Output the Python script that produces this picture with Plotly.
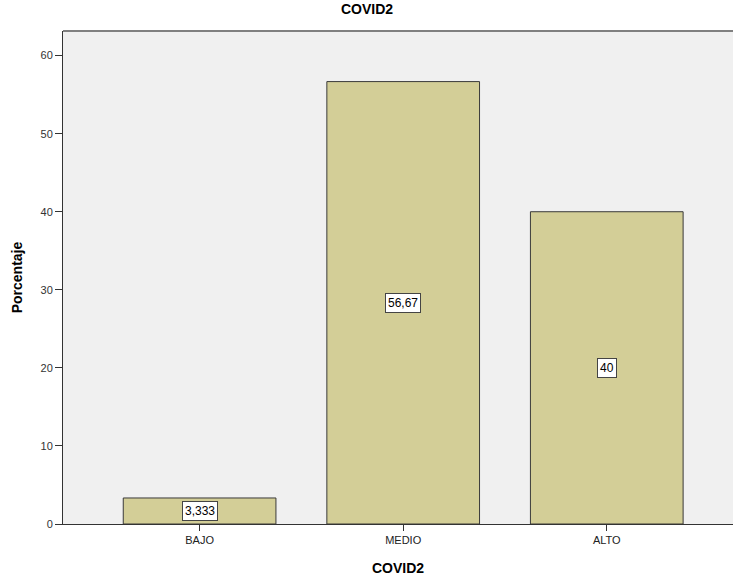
import plotly.graph_objects as go

categories = ["BAJO", "MEDIO", "ALTO"]
values = [3.333, 56.67, 40.0]
value_labels = ["3,333", "56,67", "40"]
y_ticks = [0, 10, 20, 30, 40, 50, 60]

FONT = "Liberation Sans, Arial, sans-serif"

fig = go.Figure()
fig.add_trace(go.Bar(
    x=categories, y=values, width=0.75,
    marker=dict(color="#d3ce97", line=dict(color="#3a3a3a", width=1)),
    hoverinfo="skip",
))

for c, v, t in zip(categories, values, value_labels):
    fig.add_annotation(
        x=c, y=v / 2, text=t, showarrow=False,
        font=dict(family=FONT, size=12, color="#000"),
        bgcolor="white", bordercolor="#444", borderwidth=1, borderpad=2,
    )

fig.add_shape(type="line", xref="paper", yref="paper", x0=0, x1=1, y0=1, y1=1,
              line=dict(color="#808080", width=2))

fig.update_layout(
    width=734, height=581,
    margin=dict(l=63, r=1, t=31, b=57),
    paper_bgcolor="white", plot_bgcolor="#f0f0f0",
    showlegend=False,
    title=dict(text="<b>COVID2</b>", x=0.5, xanchor="center", y=0.993, yanchor="top",
               font=dict(family=FONT, size=14, color="#000")),
    font=dict(family=FONT, size=11, color="#333"),
    xaxis=dict(
        range=[-0.671, 2.62], showgrid=False, zeroline=False,
        showline=True, linecolor="#333", linewidth=1,
        ticks="outside", ticklen=6, tickcolor="#333",
        tickfont=dict(family=FONT, size=11, color="#222"),
        title=dict(text="<b>COVID2</b>", font=dict(family=FONT, size=14, color="#000"), standoff=17),
    ),
    yaxis=dict(
        range=[0, 63.15], tickvals=y_ticks, showgrid=False, zeroline=False,
        showline=True, linecolor="#333", linewidth=1,
        ticks="outside", ticklen=7, tickcolor="#333",
        tickfont=dict(family=FONT, size=11, color="#333"),
        title=dict(text="<b>Porcentaje</b>", font=dict(family=FONT, size=14, color="#000"), standoff=14),
    ),
    bargap=0.25,
)

fig.write_html("out.html", config={"displayModeBar": False},
               post_script="document.body.style.margin='0';")
